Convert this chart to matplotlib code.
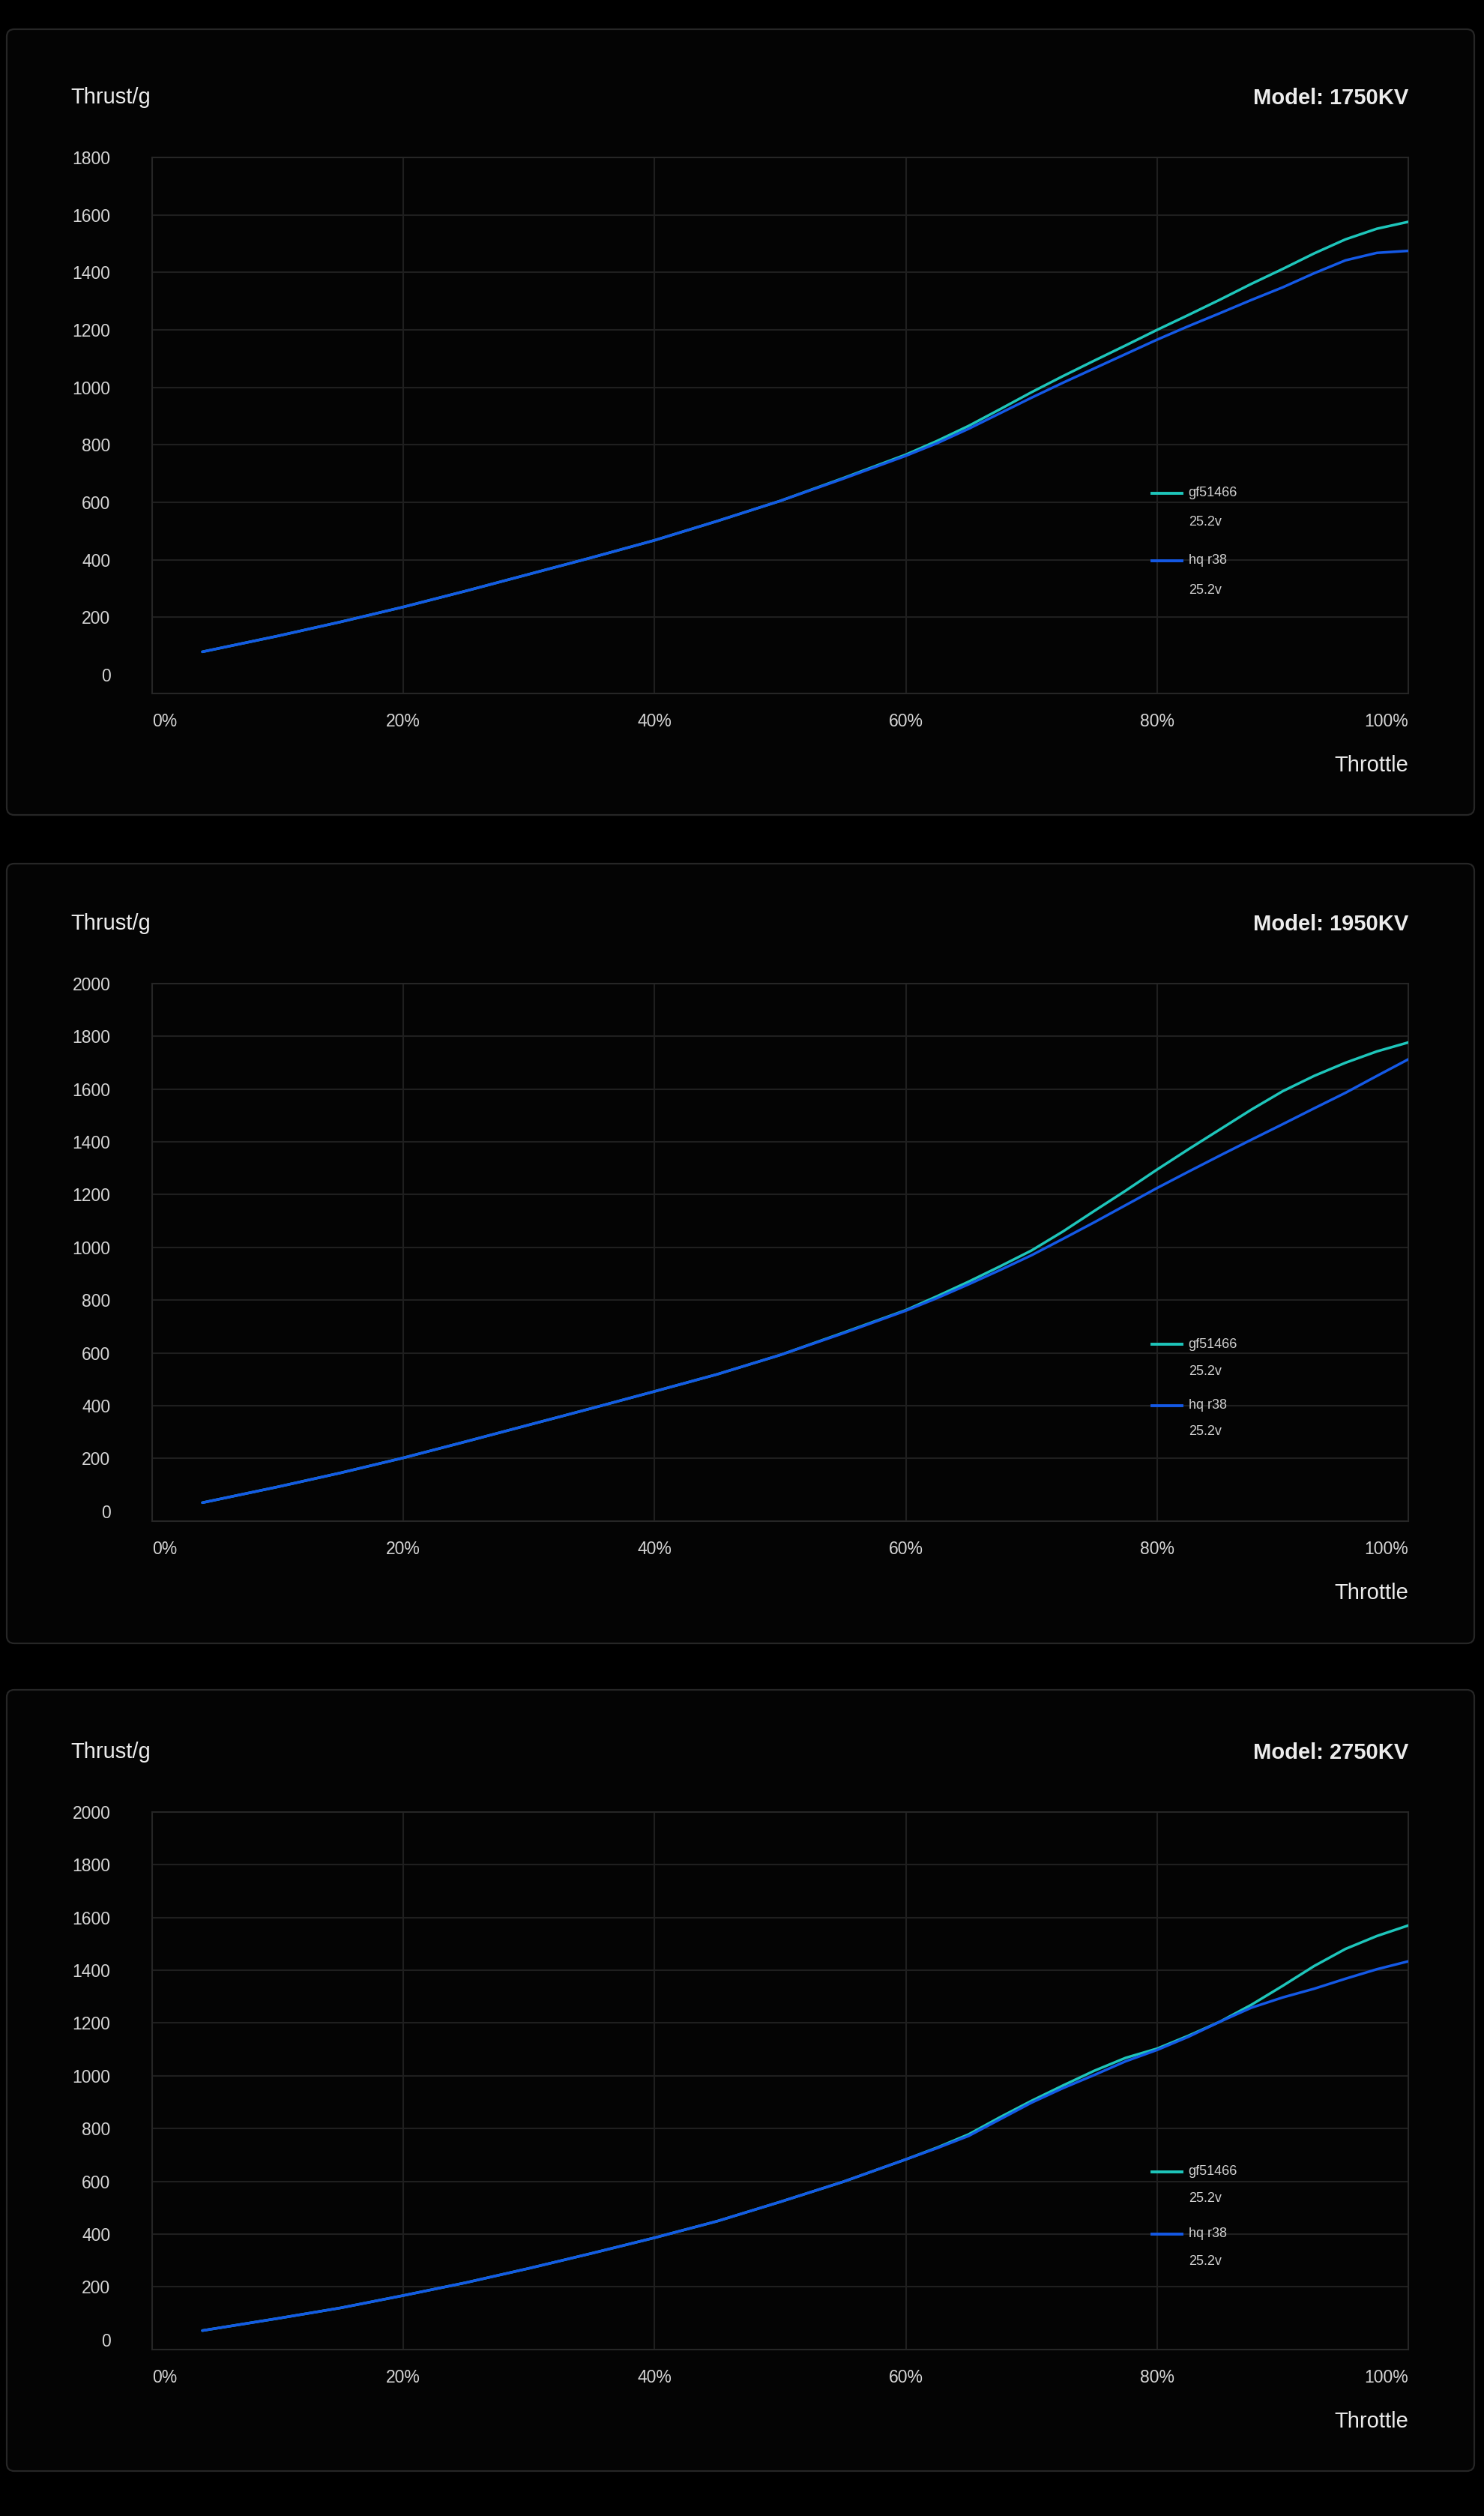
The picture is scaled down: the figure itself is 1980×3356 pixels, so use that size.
import matplotlib
matplotlib.use("Agg")
import matplotlib.pyplot as plt
from matplotlib.patches import FancyBboxPatch

# ---- data (throttle %, thrust in g) ----
THROTTLE = [4, 10, 15, 20, 25, 30, 35, 40, 45, 50, 55,
            60, 62.5, 65, 67.5, 70, 72.5, 75, 77.5, 80, 82.5, 85, 87.5, 90, 92.5, 95, 97.5, 100]

GF_1750 = [80, 135, 184, 236, 292, 350, 408, 468, 535, 605, 684,
           766, 814, 866, 924, 983, 1039, 1093, 1146, 1200, 1252, 1305, 1360, 1412, 1466, 1515, 1552, 1576]
HQ_1750 = [80, 135, 184, 236, 292, 350, 408, 468, 535, 605, 682,
           762, 806, 856, 910, 964, 1016, 1066, 1116, 1166, 1213, 1258, 1304, 1348, 1397, 1442, 1468, 1475]

GF_1950 = [32, 92, 145, 202, 264, 327, 390, 454, 519, 592, 676,
           762, 815, 870, 928, 988, 1060, 1138, 1215, 1295, 1372, 1447, 1522, 1592, 1650, 1700, 1743, 1777]
HQ_1950 = [32, 92, 145, 202, 264, 327, 390, 454, 519, 592, 674,
           760, 808, 860, 914, 970, 1032, 1095, 1160, 1225, 1287, 1348, 1408, 1467, 1527, 1586, 1650, 1713]

GF_2750 = [34, 80, 120, 167, 216, 270, 327, 386, 449, 522, 598,
           683, 728, 778, 843, 905, 963, 1019, 1068, 1103, 1152, 1205, 1269, 1341, 1416, 1481, 1530, 1570]
HQ_2750 = [34, 80, 120, 167, 216, 270, 327, 386, 449, 522, 598,
           683, 726, 772, 835, 898, 953, 1003, 1055, 1098, 1148, 1205, 1258, 1297, 1330, 1368, 1404, 1434]

MODELS = ["1750KV", "1950KV", "2750KV"]
SERIES_NAMES = ["gf51466", "hq r38"]
VOLTAGE = "25.2v"
X_TICKS = [0, 20, 40, 60, 80, 100]
Y_TICKS_1750 = [0, 200, 400, 600, 800, 1000, 1200, 1400, 1600, 1800]
Y_TICKS_HIGH = [0, 200, 400, 600, 800, 1000, 1200, 1400, 1600, 1800, 2000]

# ---- look ----
TEAL = "#1ec6bb"
BLUE = "#1459e6"
GRID = "#1f1f1f"
FRAME = "#262626"
TXT = "#ececec"
TICK_TXT = "#d6d6d6"

plt.rcParams["font.family"] = ["Liberation Sans", "DejaVu Sans"]

W, H = 1980, 3356
fig = plt.figure(figsize=(W / 100, H / 100), dpi=100, facecolor="black")

# background layer in pixel coordinates for the cards and free text
bg = fig.add_axes([0, 0, 1, 1])
bg.set_xlim(0, W)
bg.set_ylim(H, 0)
bg.axis("off")

card_tops = [39, 1152, 2254]
card_bottoms = [1087, 2192, 3296]
plot_tops = [210, 1312, 2417]
plot_bottoms = [925, 2029, 3134]
PX0, PX1 = 203, 1879
ylims = [(-65, 1800), (-38, 2000), (-38, 2000)]
yticks = [Y_TICKS_1750, Y_TICKS_HIGH, Y_TICKS_HIGH]
series = [(GF_1750, HQ_1750), (GF_1950, HQ_1950), (GF_2750, HQ_2750)]
# legend rows (axes fraction): name1, volt1, name2, volt2
legend_y = [(0.374, 0.319, 0.248, 0.192),
            (0.329, 0.278, 0.215, 0.167),
            (0.331, 0.281, 0.215, 0.164)]

for i in range(3):
    top, bot = card_tops[i], card_bottoms[i]
    bg.add_patch(FancyBboxPatch((9, top), 1958, bot - top,
                                boxstyle="round,pad=0,rounding_size=10",
                                fc="#040404", ec="#262626", lw=1.6))

    pt, pb = plot_tops[i], plot_bottoms[i]
    bg.text(94, pt - 72, "Thrust/g", fontsize=21, color=TXT, ha="left", va="baseline")
    bg.text(PX1, pt - 71, f"Model: {MODELS[i]}", fontsize=21, fontweight="bold",
            color=TXT, ha="right", va="baseline")
    bg.text(PX1, pb + 104, "Throttle", fontsize=21, color=TXT, ha="right", va="baseline")

    ax = fig.add_axes([PX0 / W, 1 - pb / H, (PX1 - PX0) / W, (pb - pt) / H])
    ax.set_facecolor("none")
    ax.set_xlim(0, 100)
    ax.set_ylim(*ylims[i])

    # grid (no line at 0, the frame bottom sits a bit below it)
    for t in yticks[i][1:-1]:
        ax.axhline(t, color=GRID, lw=1.5, zorder=1)
    for t in X_TICKS[1:-1]:
        ax.axvline(t, color=GRID, lw=1.5, zorder=1)
    for s in ax.spines.values():
        s.set_color(FRAME)
        s.set_linewidth(1.5)

    ax.set_yticks(yticks[i])
    ax.set_yticklabels([str(t) for t in yticks[i]])
    ax.set_xticks(X_TICKS)
    ax.set_xticklabels([f"{t}%" for t in X_TICKS])
    ax.tick_params(axis="y", length=0, pad=40, labelsize=16.5, labelcolor=TICK_TXT)
    ax.tick_params(axis="x", length=0, pad=19, labelsize=16.5, labelcolor=TICK_TXT)
    xl = ax.get_xticklabels()
    xl[0].set_ha("left")
    xl[-1].set_ha("right")

    gf, hq = series[i]
    ax.plot(THROTTLE, gf, color=TEAL, lw=2.5, zorder=3,
            solid_capstyle="round", solid_joinstyle="round")
    ax.plot(THROTTLE, hq, color=BLUE, lw=2.5, zorder=4,
            solid_capstyle="round", solid_joinstyle="round")

    # legend drawn by hand: swatch, name, voltage line below
    ly = legend_y[i]
    for k, (name, col) in enumerate(zip(SERIES_NAMES, [TEAL, BLUE])):
        y_name, y_volt = ly[2 * k], ly[2 * k + 1]
        ax.plot([0.796, 0.820], [y_name, y_name], transform=ax.transAxes,
                color=col, lw=2.8, clip_on=False, zorder=5)
        ax.text(0.825, y_name, name, transform=ax.transAxes, fontsize=13,
                color="#d2d2d2", ha="left", va="center")
        ax.text(0.825, y_volt, VOLTAGE, transform=ax.transAxes, fontsize=13,
                color="#d2d2d2", ha="left", va="center")

fig.savefig("out.png", dpi=100, facecolor="black")
